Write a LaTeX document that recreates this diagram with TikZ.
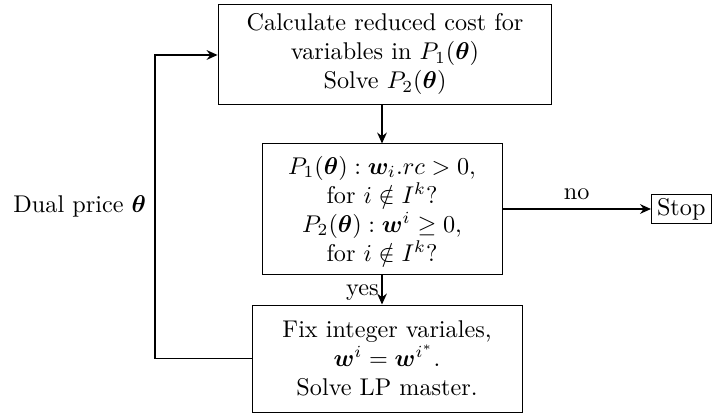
\documentclass[tikz,border=0pt]{standalone}
\usepackage{amsmath,bm}
\usetikzlibrary{arrows.meta}
\begin{document}
\begin{tikzpicture}[x=0.413pt,y=-0.413pt,
  box/.style={draw, align=center, inner sep=0pt},
  conn/.style={thick, -{Stealth[length=4.5pt,width=4pt]}}]
\useasboundingbox (0,0) rectangle (712,416);
\node[box, minimum width=137.9pt, minimum height=41.3pt] (calc) at (385,54)
  {Calculate reduced cost for\\ variables in $P_1(\bm{\theta})$\\ Solve $P_2(\bm{\theta})$};
\node[box, minimum width=99.1pt, minimum height=53.7pt] (test) at (382,209)
  {$P_1(\bm{\theta}) : \bm{w}_i.rc > 0,$\\ for $i \notin I^k$?\\ $P_2(\bm{\theta}) : \bm{w}^i \geq 0,$\\ for $i \notin I^k$?};
\node[box, minimum width=111.5pt, minimum height=44.2pt] (fix) at (387,358.5)
  {Fix integer variales,\\ $\bm{w}^i = \bm{w}^{i^*}$.\\ Solve LP master.};
\node[box, minimum width=24.6pt, minimum height=12pt, anchor=east] (stop) at (711.5,209) {Stop};
\coordinate (corner) at (155,358.5);
\coordinate (cornertop) at (155,55);
\draw[conn] (calc.south -| test.north) -- (test.north);
\draw[conn] (test.east) -- node[above] {no} (stop.west);
\draw[conn] (test.south) -- node[left, inner sep=1pt, pos=0.6] {yes} (test.south |- fix.north);
\draw[conn] (fix.west) -- (corner) -- node[left, pos=0.5] {Dual price $\bm{\theta}$} (cornertop) -- (cornertop -| calc.west);
\end{tikzpicture}
\end{document}
